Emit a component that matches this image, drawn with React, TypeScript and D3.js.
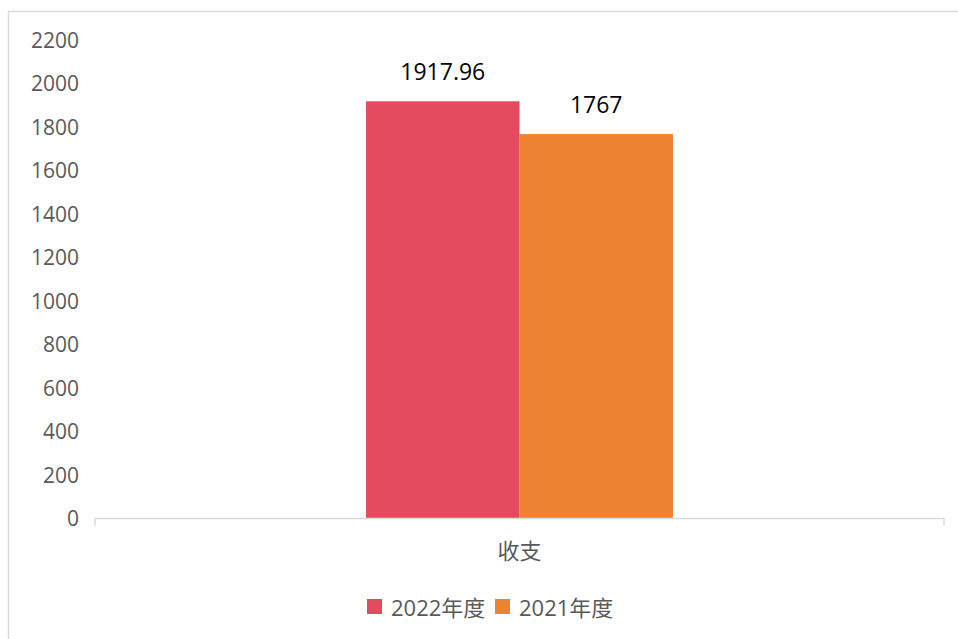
import React from "react";
import * as d3 from "d3";

const categories = ["收支"];
const seriesNames = ["2022年度", "2021年度"];
const values2022 = [1917.96];
const values2021 = [1767];
const valueLabels = ["1917.96", "1767"];
const yTicks = [0, 200, 400, 600, 800, 1000, 1200, 1400, 1600, 1800, 2000, 2200];
const colors = ["#E54B5E", "#ED8231"];

const W = 958;
const H = 639;
const plot = { left: 95, right: 944, top: 40, bottom: 518 };
const FONT = "'Open Sans', 'Noto Sans CJK SC', sans-serif";

export default function App() {
  const y = d3.scaleLinear().domain([0, 2200]).range([plot.bottom, plot.top]);
  const x0 = d3.scaleBand<string>().domain(categories).range([plot.left, plot.right]).padding(0.469);
  const x1 = d3.scaleBand<string>().domain(seriesNames).range([0, x0.bandwidth()]).padding(0);
  const series = [values2022, values2021];

  return (
    <svg width={W} height={H} style={{ position: "absolute", left: 0, top: 0, background: "#fff" }}>
      <rect x={8.5} y={11.5} width={W + 20} height={H + 20} fill="#fff" stroke="#D9D9D9" strokeWidth={1.5} />
      {yTicks.map((t) => (
        <text key={t} x={79} y={y(t)} textAnchor="end" dominantBaseline="central" fontFamily={FONT} fontSize={21} fill="#595959">
          {t}
        </text>
      ))}
      {categories.map((c, ci) =>
        seriesNames.map((s, si) => {
          const v = series[si][ci];
          const bx = (x0(c) ?? 0) + (x1(s) ?? 0);
          return (
            <g key={c + s}>
              <rect x={bx} y={y(v)} width={x1.bandwidth()} height={y(0) - y(v)} fill={colors[si]} />
              <text x={bx + x1.bandwidth() / 2} y={y(v) - 30} textAnchor="middle" dominantBaseline="central" fontFamily={FONT} fontSize={23} fill="#000">
                {valueLabels[si]}
              </text>
            </g>
          );
        })
      )}
      <line x1={plot.left} x2={plot.right} y1={plot.bottom + 0.5} y2={plot.bottom + 0.5} stroke="#D9D9D9" strokeWidth={1.5} />
      {[plot.left, plot.right].map((tx) => (
        <line key={tx} x1={tx} x2={tx} y1={plot.bottom} y2={plot.bottom + 8} stroke="#D9D9D9" strokeWidth={1.5} />
      ))}
      {categories.map((c) => (
        <text key={c} x={(x0(c) ?? 0) + x0.bandwidth() / 2} y={550} textAnchor="middle" dominantBaseline="central" fontFamily={FONT} fontSize={22} fill="#595959">
          {c}
        </text>
      ))}
      {seriesNames.map((s, i) => {
        const lx = 367 + i * 128;
        return (
          <g key={s}>
            <rect x={lx} y={599} width={15} height={15} fill={colors[i]} />
            <text x={lx + 24} y={607} dominantBaseline="central" fontFamily={FONT} fontSize={22} fill="#595959">
              {s}
            </text>
          </g>
        );
      })}
    </svg>
  );
}
